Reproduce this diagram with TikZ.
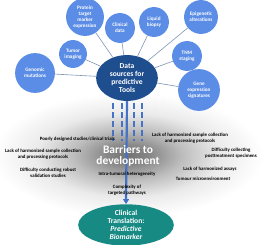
\documentclass[tikz,border=0pt]{standalone}
\usepackage{fontspec,xcolor,tikz}
\setmainfont{Carlito}
\usetikzlibrary{arrows.meta,shapes.geometric}
\definecolor{satblue}{HTML}{5B8DE6}
\definecolor{deepblue}{HTML}{1F4E8F}
\definecolor{dashblue}{HTML}{4472C4}
\definecolor{linkgrey}{HTML}{7F95B5}
\definecolor{tealfill}{HTML}{168A83}
\newcommand{\lbl}{\fontsize{4.9}{5.6}\selectfont}
\newcommand{\micro}{\fontsize{5.2}{6}\selectfont}
\newcommand{\head}{\fontsize{7.6}{8}\selectfont}
\newcommand{\hero}{\fontsize{11.5}{11}\selectfont}
\pgfdeclareradialshading{fog}{\pgfpoint{0bp}{0bp}}{color(0bp)=(black!55); color(4bp)=(black!47); color(10bp)=(black!26); color(17bp)=(black!8); color(25bp)=(white); color(50bp)=(white)}

\begin{document}
\begin{tikzpicture}[x=1bp,y=1bp,
  sat/.style={circle,fill=satblue,text=white,font=\micro\bfseries,align=center,inner sep=0pt},
  link/.style={draw=linkgrey,line width=0.6pt},
  dashline/.style={dashblue,line width=2.2pt,dash pattern=on 6bp off 3bp},
  note/.style={inner sep=0,text=black,font=\lbl\bfseries,align=center}]
\useasboundingbox (0,0) rectangle (263,245);
\shade[shading=fog] (128,90) ellipse (135 and 62);
% data sources
\node[ellipse,fill=deepblue,text=white,font=\head\bfseries,align=center,minimum width=62,minimum height=46,inner sep=0] (data) at (127,167) {Data\\sources for\\predictive\\Tools};
\node[sat,minimum size=40] (gen) at (35,172) {Genomic\\mutations};
\node[sat,minimum size=28] (img) at (73,191) {Tumor\\imaging};
\node[sat,minimum size=38] (prot) at (85,228) {Protein\\target\\marker\\expression};
\node[sat,minimum size=30] (clin) at (120,217) {Clinical\\data};
\node[sat,minimum size=30] (liq) at (154,223) {Liquid\\biopsy};
\node[sat,minimum size=34] (epi) at (201,228) {Epigenetic\\alterations};
\node[sat,minimum size=30] (tnm) at (187,189) {TNM\\staging};
\node[sat,minimum size=42] (gene) at (199,155) {Gene\\expression\\signatures};
\foreach \s in {gen,img,prot,clin,liq,epi,tnm,gene}
  \draw[link] (data) -- (\s);
% translation
\node[ellipse,fill=tealfill,text=white,font=\head\bfseries,align=center,minimum width=96,minimum height=40,inner sep=0] (trans) at (126,20) {Clinical\\Translation:\\\textit{Predictive}\\\textit{Biomarker}};
\foreach \dx in {-14,-5,7,15}
  \draw[dashline] ([xshift=\dx]data.south) ++(0,-2) -- ++(0,-38);
\draw[dashblue,line width=2.2pt,-{Triangle[length=5bp,width=6bp]}] (data.south) -- (trans.north);
\node[inner sep=0,text=white,font=\hero\bfseries,align=center] (barr) at (128,89) {Barriers to\\development};
% barriers
\node[note,anchor=east] (poor) at (115,106) {Poorly designed studies/clinical trials};
\node[note] (harmL) at (43,91) {Lack of harmonized sample collection\\and processing protocols};
\node[note] (robust) at (48,72) {Difficulty conducting robust\\validation studies};
\node[note] (intra) at (127,71) {Intra-tumoral heterogeneity};
\node[note] (cplx) at (127,55) {Complexity of\\targeted pathways};
\node[note] (harmR) at (190,107) {Lack of harmonized sample collection\\and processing protocols};
\node[note] (post) at (231,92) {Difficulty collecting\\posttreatment specimens};
\node[note] (assay) at (210,76) {Lack of harmonized assays};
\node[note] (tme) at (203,66) {Tumour microenvironment};
\end{tikzpicture}
\end{document}
